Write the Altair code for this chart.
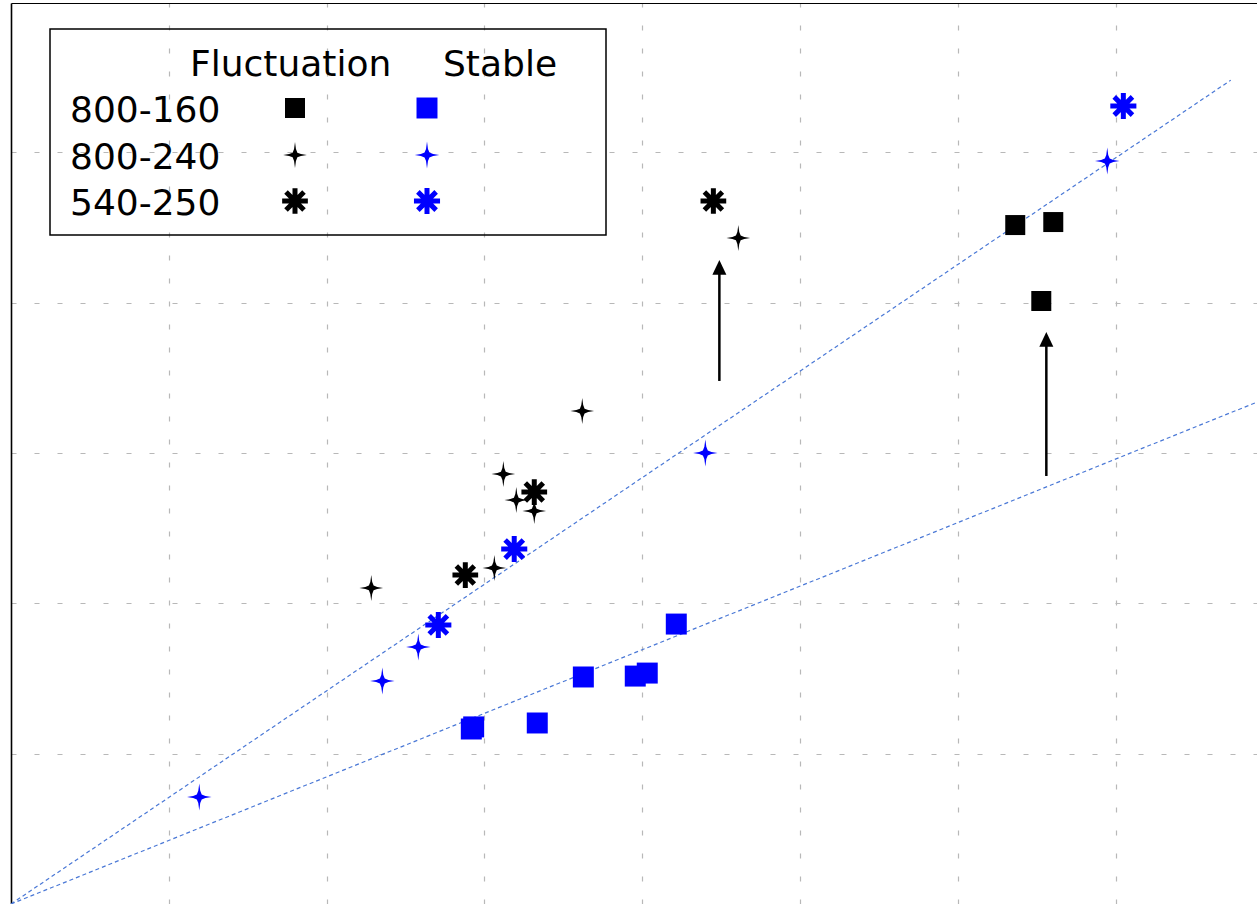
import altair as alt
import pandas as pd

# Axis extents (data units); grid every 1 unit
X_MAX = 7.896
Y_MAX = 5.993

# Measured points, one pair of arrays per series
fl_160_x = [6.364, 6.605, 6.529]
fl_160_y = [4.516, 4.536, 4.011]
fl_240_x = [2.283, 3.120, 3.202, 3.316, 3.063, 3.620, 4.609]
fl_240_y = [2.102, 2.860, 2.687, 2.614, 2.235, 3.279, 4.430]
fl_250_x = [2.879, 3.316, 4.451]
fl_250_y = [2.188, 2.740, 4.676]
st_160_x = [2.917, 2.932, 3.335, 3.627, 3.956, 4.032, 4.216]
st_160_y = [1.164, 1.178, 1.204, 1.510, 1.516, 1.536, 1.862]
st_240_x = [1.193, 2.353, 2.581, 4.400, 6.947]
st_240_y = [0.712, 1.483, 1.709, 3.000, 4.942]
st_250_x = [2.708, 3.189, 7.049]
st_250_y = [1.856, 2.361, 5.308]

# Reference lines through the origin
trend1_x = [0.0, 7.73]
trend1_y = [0.0, 5.48]
trend2_x = [0.0, 7.9]
trend2_y = [0.0, 3.34]

# Arrows (x, tail y, tip y)
arrow_x = [4.489, 6.561]
arrow_y0 = [3.479, 2.847]
arrow_y1 = [4.283, 3.804]

legend_rows = ["800-160", "800-240", "540-250"]
legend_cols = ["Fluctuation", "Stable"]

BLACK = "#000000"
BLUE = "#0000ff"
LINE_BLUE = "#4a78d6"
FONT = "DejaVu Sans"

# four-pointed star with concave sides (polyline approximation)
STAR = ("M0,-1.1L0.08,-0.5L0.2,-0.2L0.5,-0.08L1,0"
        "L0.5,0.08L0.2,0.2L0.08,0.5L0,1.1"
        "L-0.08,0.5L-0.2,0.2L-0.5,0.08L-1,0"
        "L-0.5,-0.08L-0.2,-0.2L-0.08,-0.5Z")
AST = "M0,-1L0,1M-1,0L1,0M-0.7,-0.7L0.7,0.7M-0.7,0.7L0.7,-0.7"
HEAD = "M0,0L-1,2.1L1,2.1Z"

PAD_L, PAD_T = 11, 3
W, H = 1246, 901


def xenc(field="x"):
    return alt.X(
        f"{field}:Q",
        scale=alt.Scale(domain=[0, X_MAX], nice=False, zero=False),
        axis=alt.Axis(orient="top", values=[1, 2, 3, 4, 5, 6, 7], labels=False,
                      ticks=False, title=None, grid=True, gridDash=[5, 18],
                      gridColor="#b8b8b8", gridWidth=1.2, domainColor="black",
                      domainWidth=1.2),
    )


def yenc(field="y"):
    return alt.Y(
        f"{field}:Q",
        scale=alt.Scale(domain=[0, Y_MAX], nice=False, zero=False),
        axis=alt.Axis(orient="left", values=[1, 2, 3, 4, 5], labels=False,
                      ticks=False, title=None, grid=True, gridDash=[5, 18],
                      gridColor="#b8b8b8", gridWidth=1.2, domainColor="black",
                      domainWidth=1.6),
    )


def marker(shape, size, color, filled, stroke_width=0):
    if filled:
        return dict(shape=shape, size=size, filled=True, fill=color, color=color,
                    strokeWidth=stroke_width, opacity=1)
    return dict(shape=shape, size=size, filled=False, color=color, stroke=color,
                strokeWidth=stroke_width, strokeCap="butt", opacity=1)


series = [
    (fl_160_x, fl_160_y, "square", 400, BLACK, True, 0),
    (fl_240_x, fl_240_y, STAR, 560, BLACK, True, 0),
    (fl_250_x, fl_250_y, AST, 660, BLACK, False, 5),
    (st_160_x, st_160_y, "square", 440, BLUE, True, 0),
    (st_240_x, st_240_y, STAR, 600, BLUE, True, 0),
    (st_250_x, st_250_y, AST, 680, BLUE, False, 5),
]

layers = []

for tx, ty in [(trend1_x, trend1_y), (trend2_x, trend2_y)]:
    layers.append(
        alt.Chart(pd.DataFrame({"x": tx, "y": ty}))
        .mark_line(color=LINE_BLUE, strokeWidth=1.2, strokeDash=[4, 3], clip=True)
        .encode(x=xenc(), y=yenc())
    )

for sx, sy, shape, size, color, filled, sw in series:
    layers.append(
        alt.Chart(pd.DataFrame({"x": sx, "y": sy}))
        .mark_point(**marker(shape, size, color, filled, sw))
        .encode(x=xenc(), y=yenc())
    )

arrows = pd.DataFrame({"x": arrow_x, "y0": arrow_y0, "y1": arrow_y1})
arrows["ye"] = arrows["y1"] - 0.08
layers.append(
    alt.Chart(arrows).mark_rule(color=BLACK, strokeWidth=2.5)
    .encode(x=xenc(), y=yenc("y0"), y2="ye:Q")
)
layers.append(
    alt.Chart(arrows).mark_point(shape=HEAD, size=196, filled=True, fill=BLACK,
                                 strokeWidth=0, opacity=1)
    .encode(x=xenc(), y=yenc("y1"))
)

# Legend: framed grid of row labels, column headers and sample markers
one = pd.DataFrame({"k": [0]})
layers.append(
    alt.Chart(one).mark_rect(fillOpacity=0, stroke=BLACK, strokeWidth=1.5)
    .encode(x=alt.value(50 - PAD_L), x2=alt.value(606 - PAD_L),
            y=alt.value(29 - PAD_T), y2=alt.value(235 - PAD_T))
)
header_x = [190, 443]
for label, hx in zip(legend_cols, header_x):
    layers.append(
        alt.Chart(pd.DataFrame({"t": [label]}))
        .mark_text(align="left", baseline="middle", font=FONT, fontSize=36, color=BLACK)
        .encode(x=alt.value(hx - PAD_L), y=alt.value(65 - PAD_T), text="t:N")
    )
row_y = [111, 158, 204]
for label, ry in zip(legend_rows, row_y):
    layers.append(
        alt.Chart(pd.DataFrame({"t": [label]}))
        .mark_text(align="left", baseline="middle", font=FONT, fontSize=36, color=BLACK)
        .encode(x=alt.value(70 - PAD_L), y=alt.value(ry - PAD_T), text="t:N")
    )
marker_x = [295, 427]
for i, ry in enumerate(row_y):
    for j, mx in enumerate(marker_x):
        _, _, shape, size, color, filled, sw = series[j * 3 + i]
        layers.append(
            alt.Chart(one)
            .mark_point(**marker(shape, size, color, filled, sw))
            .encode(x=alt.value(mx - PAD_L), y=alt.value(ry - 3 - PAD_T))
        )

chart = (
    alt.layer(*layers)
    .properties(width=W, height=H, autosize="none",
                padding={"left": PAD_L, "top": PAD_T, "right": 0, "bottom": 0})
    .configure_view(stroke=None)
)

chart.save("out.html", embed_options={"renderer": "svg", "actions": False})
